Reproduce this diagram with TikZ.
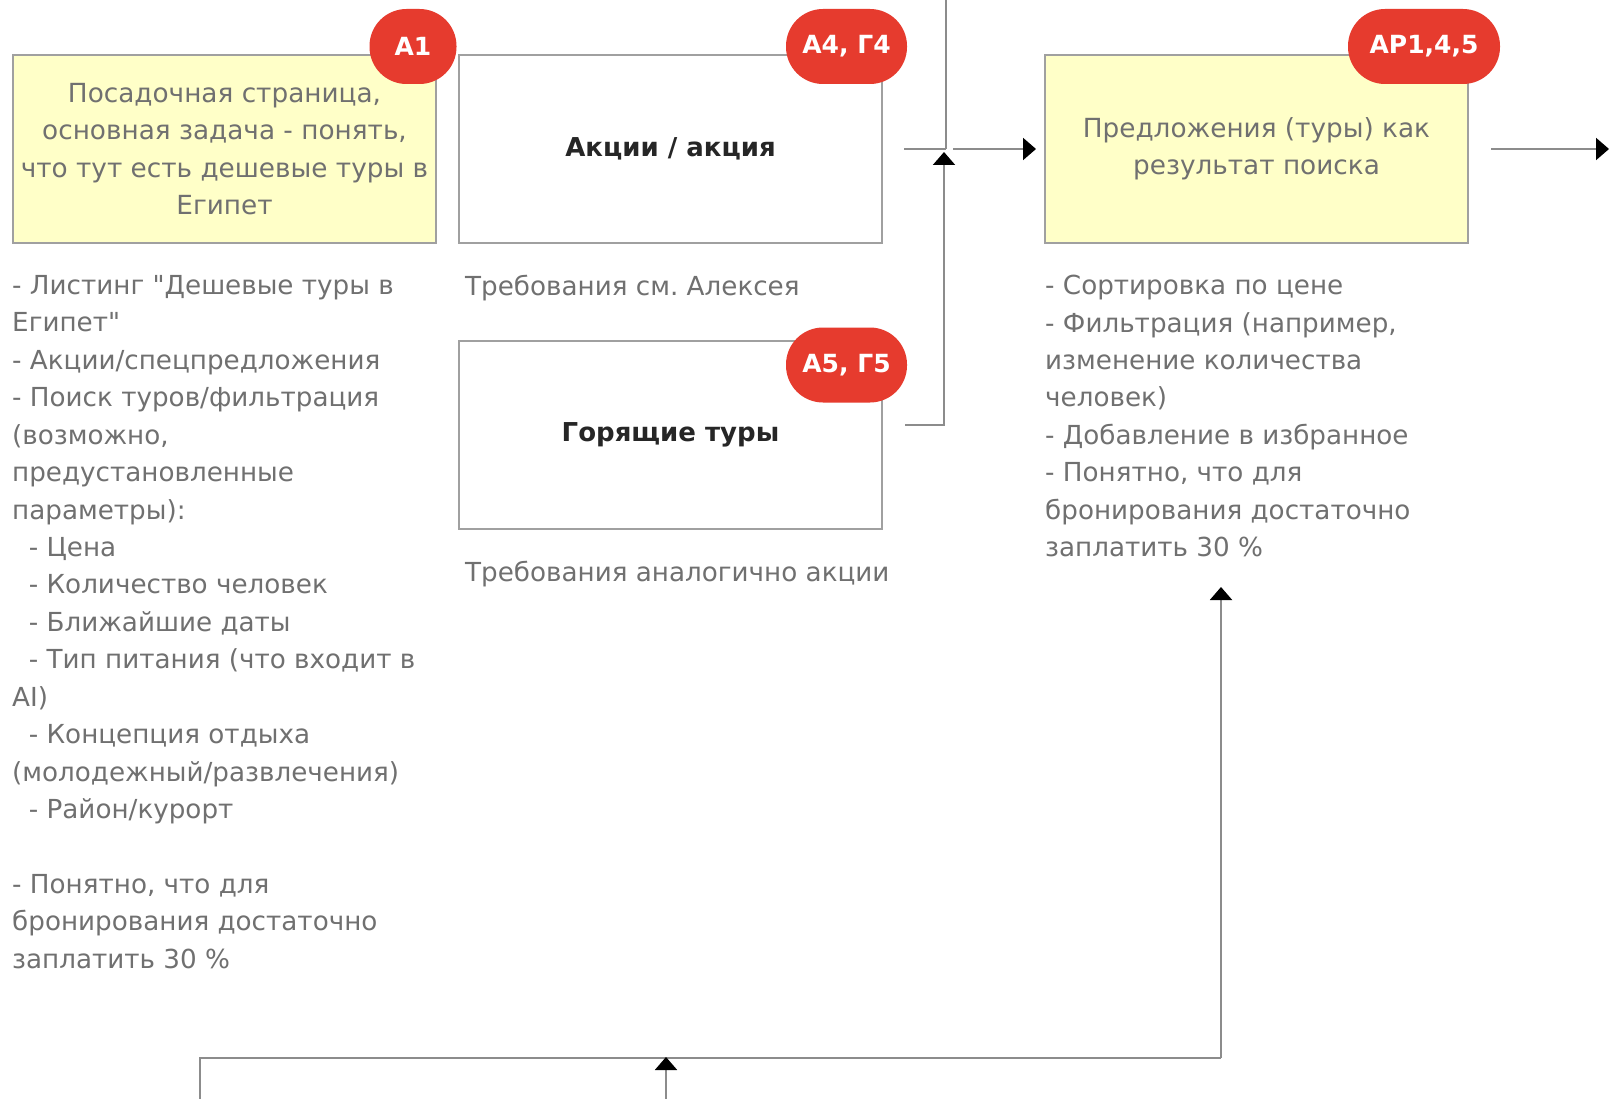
\documentclass[tikz,border=0pt]{standalone}
\usepackage{fontspec}
\setmainfont{DejaVu Sans}
\newfontfamily\djv{DejaVu Sans}
\usetikzlibrary{arrows.meta}
\frenchspacing
\definecolor{boxline}{HTML}{A0A0A0}
\definecolor{yel}{HTML}{FFFFC8}
\definecolor{txtgray}{HTML}{707070}
\definecolor{badgered}{HTML}{E63B2E}
\definecolor{wire}{HTML}{8C8C8C}
\tikzset{
  stagebox/.style={draw=boxline, line width=2pt, minimum width=423pt, minimum height=188pt, inner sep=0pt, align=center},
  yelbox/.style={stagebox, fill=yel, text=txtgray, font=\djv\fontsize{26.3}{37.3}\selectfont},
  whitebox/.style={stagebox, fill=white, text=black!85, font=\djv\bfseries\fontsize{26}{36}\selectfont},
  badge/.style={fill=badgered, text=white, rounded corners=37pt, minimum height=75pt, inner xsep=12pt, font=\djv\bfseries\fontsize{25}{30}\selectfont},
  listing/.style={anchor=north west, inner sep=0pt, align=left, text=txtgray, font=\djv\fontsize{26.2}{37.45}\selectfont},
  wireline/.style={draw=wire, line width=2pt},
  arr/.style={wireline, -{Triangle[length=13pt,width=22pt,fill=black,color=black]}}
}
\begin{document}
\begin{tikzpicture}[x=1pt,y=-1pt]
\frenchspacing
\useasboundingbox (0,0) rectangle (1613,1099);
\fill[white] (0,0) rectangle (1613,1099);

% boxes
\node[yelbox] (land) at (224.5,149) {Посадочная страница,\\основная задача - понять,\\что тут есть дешевые туры в\\Египет};
\node[whitebox] (promo) at (670.5,149) {Акции / акция};
\node[whitebox] (hot) at (670.5,435) {Горящие туры};
\node[yelbox] (offers) at (1256.5,149) {Предложения (туры) как\\результат поиска};

% badges
\node[badge, minimum width=87pt] (b1) at (413,46.5) {А1};
\node[badge, minimum width=121pt] (b2) at (846.5,46.5) {А4, Г4};
\node[badge, minimum width=121pt] (b3) at (846.5,365) {А5, Г5};
\node[badge, minimum width=152pt] (b4) at (1424,46.5) {АР1,4,5};

% listings
\node[listing] (l1) at (12,275) {- Листинг "Дешевые туры в\\Египет"\\- Акции/спецпредложения\\- Поиск туров/фильтрация\\(возможно,\\предустановленные\\параметры):\\\ \ - Цена\\\ \ - Количество человек\\\ \ - Ближайшие даты\\\ \ - Тип питания (что входит в\\AI)\\\ \ - Концепция отдыха\\(молодежный/развлечения)\\\ \ - Район/курорт\\[37.45pt]- Понятно, что для\\бронирования достаточно\\заплатить 30 \%};
\node[listing] (l2) at (465,275) {Требования см.\ Алексея};
\node[listing] (l3) at (465,561) {Требования аналогично акции};
\node[listing] (l4) at (1045,275) {- Сортировка по цене\\- Фильтрация (например,\\изменение количества\\человек)\\- Добавление в избранное\\- Понятно, что для\\бронирования достаточно\\заплатить 30 \%};

% connectors
\coordinate (topin) at (946,0);
\coordinate (jn) at (946,149);
\coordinate (jr) at (953,149);
\coordinate (out) at (1609,149);
\draw[wireline] (topin) -- (jn);
\draw[wireline, shorten <=21pt] (promo.east) -- (jn);
\draw[arr, shorten >=8pt] (jr) -- (offers.west);
\draw[arr] (hot.east) ++(22,-10) coordinate (hs) (hs) -| (944,152);
\draw[arr] (offers.east) ++(22,0) coordinate (os) (os) -- (out);

\coordinate (bl) at (200,1058);
\coordinate (br) at (1221,1058);
\coordinate (bltail) at (200,1099);
\coordinate (bmid) at (666,1099);
\coordinate (bmidtip) at (666,1057);
\coordinate (rtip) at (1221,587);
\draw[wireline, line width=2.6pt] (bltail) -- (bl) -- (br);
\draw[arr] (br) -- (rtip);
\draw[arr] (bmid) -- (bmidtip);
\end{tikzpicture}
\end{document}
